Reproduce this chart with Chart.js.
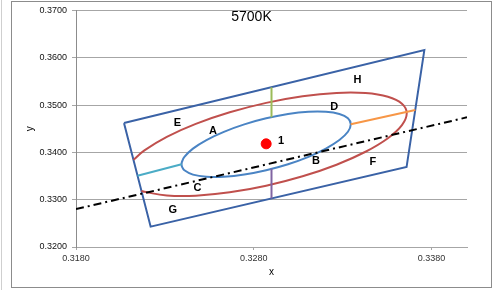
<!DOCTYPE html>
<html>
<head>
<meta charset="utf-8">
<script src="https://cdn.jsdelivr.net/npm/chart.js@4.4.1/dist/chart.umd.min.js"></script>
<style>
  body { margin: 0; background: #fff; }
  canvas { display: block; }
</style>
</head>
<body>
<canvas id="chart" width="501" height="290"></canvas>
<script>
// ticks
var xTicks = [0.318, 0.328, 0.338];
var yTicks = [0.32, 0.33, 0.34, 0.35, 0.36, 0.37];

// ANSI quadrangle
var quad = [[0.3207, 0.3462], [0.3376, 0.3616], [0.3366, 0.3369], [0.3222, 0.3243], [0.3207, 0.3462]];

// inner (blue) ellipse
var innerEllipse = [
  [0.32394, 0.33748], [0.32396, 0.33798], [0.32410, 0.33905], [0.32458, 0.34079], [0.32534, 0.34260],
  [0.32632, 0.34434], [0.32747, 0.34591], [0.32870, 0.34719], [0.32993, 0.34809], [0.33108, 0.34856],
  [0.33206, 0.34856], [0.33282, 0.34810], [0.33330, 0.34720], [0.33346, 0.34592], [0.33330, 0.34436],
  [0.33282, 0.34261], [0.33206, 0.34081], [0.33108, 0.33906], [0.32993, 0.33749], [0.32870, 0.33622],
  [0.32747, 0.33531], [0.32632, 0.33484], [0.32534, 0.33484], [0.32458, 0.33530], [0.32410, 0.33621],
  [0.32396, 0.33702], [0.32394, 0.33748]
];

// outer (red) ellipse, cut at the left edge of the quadrangle
var outerEllipse = [
  [0.32124, 0.33843], [0.32185, 0.34041], [0.32311, 0.34327], [0.32474, 0.34601], [0.32665, 0.34846],
  [0.32870, 0.35046], [0.33075, 0.35185], [0.33266, 0.35255], [0.33429, 0.35252], [0.33555, 0.35174],
  [0.33634, 0.35028], [0.33661, 0.34824], [0.33634, 0.34575], [0.33555, 0.34299], [0.33429, 0.34013],
  [0.33266, 0.33739], [0.33075, 0.33494], [0.32870, 0.33295], [0.32665, 0.33155], [0.32474, 0.33085],
  [0.32311, 0.33089], [0.32185, 0.33166], [0.32168, 0.33186]
];

var greenLine = [[0.3290, 0.34741], [0.3290, 0.35376]];
var purpleLine = [[0.3290, 0.33652], [0.3290, 0.33025]];
var cyanLine = [[0.32146, 0.33504], [0.32394, 0.33748]];
var orangeLine = [[0.33346, 0.34592], [0.33709, 0.34897]];
var refLine = [[0.3180, 0.3280], [0.3400, 0.3474]];
var centerPoint = [[0.3287, 0.3418]];

var zoneNames = ['A', 'B', 'C', 'D', 'E', 'F', 'G', 'H', '1'];
var zoneX = [0.32571, 0.33150, 0.32483, 0.33253, 0.32370, 0.33471, 0.32345, 0.33384, 0.32954];
var zoneY = [0.34454, 0.33827, 0.33245, 0.34966, 0.34616, 0.33806, 0.32787, 0.35530, 0.34243];

var chartTitle = '5700K';

function pts(arr) {
  return arr.map(function(p) { return { x: p[0], y: p[1] }; });
}

function lineSet(arr, color, extra) {
  var ds = {
    data: pts(arr),
    showLine: true,
    borderColor: color,
    borderWidth: 2,
    pointRadius: 0,
    tension: 0,
    fill: false
  };
  for (var k in extra) ds[k] = extra[k];
  return ds;
}

Chart.defaults.font.family = "'Liberation Sans', Arial, sans-serif";

var framePlugin = {
  id: 'frame',
  beforeDraw: function(chart) {
    var ctx = chart.ctx;
    ctx.save();
    ctx.fillStyle = '#fff';
    ctx.fillRect(0, 0, chart.width, chart.height);
    ctx.strokeStyle = '#cfcfcf';
    ctx.lineWidth = 1;
    ctx.beginPath();
    ctx.moveTo(1.5, 0);
    ctx.lineTo(1.5, chart.height);
    ctx.stroke();
    ctx.strokeStyle = '#8c8c8c';
    ctx.strokeRect(11.5, 1.5, 480, 286);
    ctx.restore();
  }
};

var textPlugin = {
  id: 'zoneText',
  afterDraw: function(chart) {
    var ctx = chart.ctx, xs = chart.scales.x, ys = chart.scales.y;
    ctx.save();
    ctx.fillStyle = '#000';
    ctx.textAlign = 'center';
    ctx.textBaseline = 'middle';
    ctx.font = "bold 11px 'Liberation Sans', Arial, sans-serif";
    for (var i = 0; i < zoneNames.length; i++) {
      ctx.fillText(zoneNames[i], xs.getPixelForValue(zoneX[i]), ys.getPixelForValue(zoneY[i]));
    }
    ctx.font = "14px 'Liberation Sans', Arial, sans-serif";
    ctx.fillText(chartTitle, 251.5, 17);
    ctx.restore();
  }
};

var gridColor = '#a6a6a6';
var tickFont = { size: 9 };

new Chart(document.getElementById('chart'), {
  type: 'scatter',
  data: {
    datasets: [
      {
        data: pts(centerPoint),
        pointRadius: 5,
        pointBackgroundColor: '#ff0000',
        pointBorderColor: '#ff0000',
        showLine: false
      },
      lineSet(refLine, '#000000', { borderDash: [8, 4, 2, 4] }),
      lineSet(greenLine, '#9bbb59'),
      lineSet(purpleLine, '#8064a2'),
      lineSet(cyanLine, '#4bacc6'),
      lineSet(orangeLine, '#f79646'),
      lineSet(innerEllipse, '#4a84c4', { tension: 0.4 }),
      lineSet(outerEllipse, '#c0504d', { tension: 0.4 }),
      lineSet(quad, '#3a62a6')
    ]
  },
  options: {
    responsive: false,
    animation: false,
    devicePixelRatio: 1,
    layout: { padding: { left: 12, right: 34, top: 10, bottom: 4 } },
    plugins: {
      legend: { display: false },
      tooltip: { enabled: false }
    },
    scales: {
      x: {
        type: 'linear',
        min: 0.318,
        max: 0.34,
        afterBuildTicks: function(s) { s.ticks = xTicks.map(function(v) { return { value: v }; }); },
        afterFit: function(s) { s.height = 39; },
        ticks: {
          callback: function(v) { return Number(v).toFixed(4); },
          font: tickFont, color: '#333', padding: 3, maxRotation: 0, autoSkip: false
        },
        grid: { drawOnChartArea: false, tickLength: 3, color: gridColor },
        border: { color: gridColor },
        title: { display: true, text: 'x', font: { size: 10 }, color: '#000', padding: { top: 0, bottom: 8 } }
      },
      y: {
        type: 'linear',
        min: 0.32,
        max: 0.37,
        afterBuildTicks: function(s) { s.ticks = yTicks.map(function(v) { return { value: v }; }); },
        afterFit: function(s) { s.width = 64; },
        ticks: {
          callback: function(v) { return Number(v).toFixed(4); },
          font: tickFont, color: '#111', padding: 5, autoSkip: false
        },
        grid: { tickLength: 4, color: gridColor },
        border: { color: '#8c8c8c' },
        title: { display: true, text: 'y', font: { size: 10 }, color: '#000', padding: { top: 12, bottom: 0 } }
      }
    }
  },
  plugins: [framePlugin, textPlugin]
});
</script>
</body>
</html>
